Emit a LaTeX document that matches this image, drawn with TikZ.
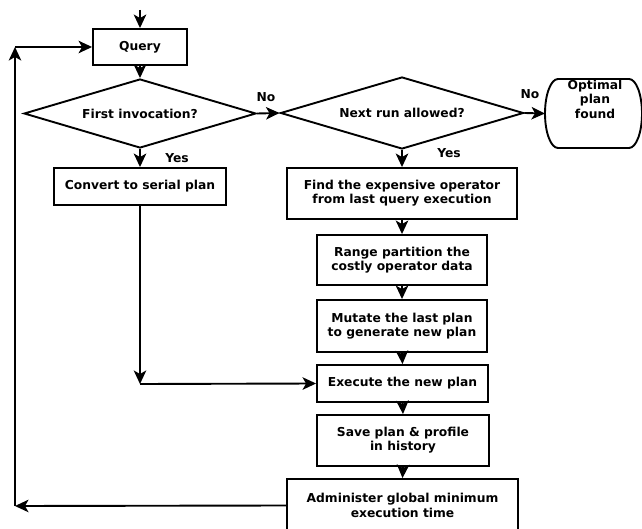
\documentclass[tikz,border=0pt]{standalone}
\usepackage{fontspec}
\setmainfont{DejaVu Sans}
\usetikzlibrary{shapes.geometric,arrows.meta}
\begin{document}
\begin{tikzpicture}[x=1pt,y=-1pt,
  every node/.style={font=\fontsize{12.3}{14.3}\selectfont\bfseries},
  procbox/.style={draw,line width=1.9pt,align=center,inner sep=0pt},
  decide/.style={draw,diamond,line width=1.9pt,inner sep=0pt,align=center},
  lbl/.style={inner sep=0pt},
  arr/.style={line width=1.9pt,-{Stealth[length=13.5pt,width=12.5pt,inset=3.5pt]}}]
\useasboundingbox (0,0) rectangle (642,529);
\clip (0,0) rectangle (642,529);
\node[procbox,minimum width=94pt,minimum height=36pt] (query) at (140,47) {Query};
\node[decide,minimum width=232pt,minimum height=69pt,aspect=3.36] (d1) at (140,113.5) {First invocation?};
\node[decide,minimum width=243pt,minimum height=72pt,aspect=3.37] (d2) at (402,113) {Next run allowed?};
\draw[line width=1.9pt] (558,79) -- (629,79)
  arc[start angle=90,end angle=-90,x radius=13pt,y radius=34.5pt] -- (558,148)
  arc[start angle=270,end angle=90,x radius=13pt,y radius=34.5pt] -- cycle;
\node[align=center,anchor=north,inner sep=0pt] (opt) at (595,80) {Optimal\\plan\\found};
\coordinate (term) at (545,113.5);
\node[procbox,minimum width=172pt,minimum height=37pt] (conv) at (140,186.5) {Convert to serial plan};
\node[procbox,minimum width=230pt,minimum height=51pt] (find) at (402,193.5) {Find the expensive operator\\from last query execution};
\node[procbox,minimum width=170pt,minimum height=50pt] (range) at (402,260) {Range partition the\\costly operator data};
\node[procbox,minimum width=170pt,minimum height=52pt] (mut) at (402,326) {Mutate the last plan\\to generate new plan};
\node[procbox,minimum width=171pt,minimum height=37pt] (exec) at (402.5,383.5) {Execute the new plan};
\node[procbox,minimum width=172pt,minimum height=51pt] (save) at (403,440.5) {Save plan \& profile\\in history};
\node[procbox,minimum width=231pt,minimum height=53pt] (adm) at (402.5,505.5) {Administer global minimum\\execution time};
\coordinate (start) at (140,10);
\coordinate (join) at (140,384);
\coordinate (fbl) at (15,506);
\coordinate (fbt) at (15,47);
\node[lbl] (no1) at (266,97) {No};
\node[lbl] (no2) at (530,94) {No};
\node[lbl] (yes1) at (177,158) {Yes};
\node[lbl] (yes2) at (449,153) {Yes};
\draw[arr] (start) -- (query.north);
\draw[arr] (query.south) -- (d1.north);
\draw[arr] (d1.east) -- (d2.west);
\draw[arr] (d2.east) -- (term);
\draw[arr] (d1.south) -- (conv.north);
\draw[arr] (d2.south) -- (find.north);
\draw[arr] (find.south) -- (range.north);
\draw[arr] (range.south) -- (mut.north);
\draw[arr] (mut.south) -- (exec.north);
\draw[arr] (exec.south) -- (save.north);
\draw[arr] (save.south) -- (adm.north);
\draw[arr] (conv.south) -- (join);
\draw[arr] (join) -- (exec.west);
\draw[arr] (adm.west) -- (fbl);
\draw[arr] (fbl) -- (fbt);
\draw[arr] (fbt) -- (query.west);
\end{tikzpicture}
\end{document}
